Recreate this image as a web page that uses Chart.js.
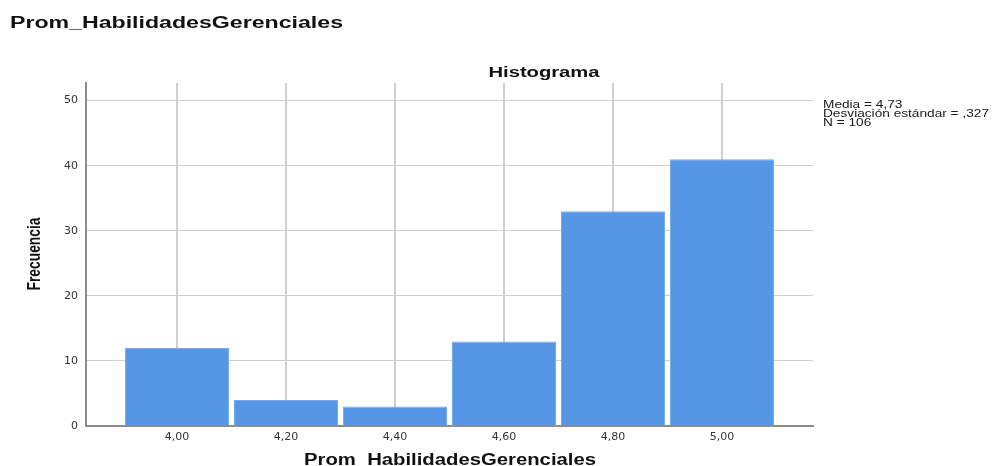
<!DOCTYPE html>
<html>
<head>
<meta charset="utf-8">
<script src="https://cdn.jsdelivr.net/npm/chart.js@4/dist/chart.umd.min.js"></script>
<style>
  html,body{margin:0;padding:0;background:#fff;}
  canvas{display:block;}
</style>
</head>
<body>
<canvas id="histo" width="992" height="466"></canvas>
<script>
// -------- DATA ----------
const binCenters  = [4.0, 4.2, 4.4, 4.6, 4.8, 5.0];
const tickLabels  = ['4,00', '4,20', '4,40', '4,60', '4,80', '5,00'];
const frequencies = [12, 4, 3, 13, 33, 41];
const yTicks      = [0, 10, 20, 30, 40, 50];
const statsLines  = ['Media = 4,73', 'Desviación estándar = ,327', 'N = 106'];

const varName   = 'Prom_HabilidadesGerenciales';
const chartName = 'Histograma';
const yName     = 'Frecuencia';

const FONT      = '"Liberation Sans", Arial, sans-serif';
const TICK_FONT = '"DejaVu Sans", "Liberation Sans", sans-serif';

// draw text squeezed/stretched to a given width (SPSS style output)
function fitText(ctx, text, x, y, w, align){
  const m = ctx.measureText(text).width || 1;
  ctx.save();
  ctx.translate(x, y);
  ctx.scale(w / m, 1);
  ctx.textAlign = align;
  ctx.fillText(text, 0, 0);
  ctx.restore();
}

// plugin: titles and stats box
const labelsPlugin = {
  id: 'labelsPlugin',
  afterDraw(chart){
    const ctx = chart.ctx;
    ctx.save();
    ctx.fillStyle = '#111';
    ctx.textBaseline = 'alphabetic';

    ctx.font = 'bold 16px ' + FONT;
    fitText(ctx, varName, 10, 28, 333, 'left');

    ctx.font = 'bold 14px ' + FONT;
    fitText(ctx, chartName, 544, 77, 111, 'center');

    ctx.font = 'bold 16px ' + FONT;
    fitText(ctx, varName, 450, 465, 292, 'center');

    // y title, rotated
    ctx.save();
    ctx.translate(35, 254);
    ctx.rotate(-Math.PI/2);
    ctx.textBaseline = 'middle';
    ctx.font = 'bold 19px ' + FONT;
    fitText(ctx, yName, 0, 0, 73, 'center');
    ctx.restore();

    // stats, all lines share the same horizontal stretch
    ctx.fillStyle = '#1a1a1a';
    ctx.font = '11px ' + FONT;
    ctx.textBaseline = 'middle';
    ctx.textAlign = 'left';
    const longest = Math.max(...statsLines.map(t=>ctx.measureText(t).width));
    const sx = 166 / longest;
    statsLines.forEach((t, i)=>{
      ctx.save();
      ctx.translate(823, 105 + i*9);
      ctx.scale(sx, 1);
      ctx.fillText(t, 0, 0);
      ctx.restore();
    });
    ctx.restore();
  }
};

// -------- CHART ----------
const el = document.getElementById('histo');

new Chart(el.getContext('2d'), {
  type: 'bar',
  data: {
    datasets: [{
      data: binCenters.map((x, i)=>({x: x, y: frequencies[i]})),
      backgroundColor: '#5596e6',
      borderColor: '#78abec',
      borderWidth: 1,
      barPercentage: 1,
      categoryPercentage: 0.954
    }]
  },
  options: {
    responsive: false,
    animation: false,
    layout: {padding: {left: 0, top: 83, right: 179, bottom: 0}},
    plugins: {legend: {display: false}, tooltip: {enabled: false}, title: {display: false}},
    scales: {
      x: {
        type: 'linear',
        min: 3.833,
        max: 5.167,
        offset: false,
        afterFit(s){ s.height = 40; },
        afterBuildTicks(s){ s.ticks = binCenters.map(v=>({value: v})); },
        ticks: {
          padding: 5,
          autoSkip: false,
          maxRotation: 0,
          color: '#333',
          font: {family: TICK_FONT, size: 11},
          callback: (v, i)=> tickLabels[i]
        },
        grid: {color: '#cfcfcf', lineWidth: 2, drawTicks: false, offset: false},
        border: {color: '#8c8c8c', width: 2}
      },
      y: {
        min: 0,
        max: 52.7,
        afterFit(s){ s.width = 86; },
        afterBuildTicks(s){ s.ticks = yTicks.map(v=>({value: v})); },
        ticks: {
          padding: 8,
          color: '#333',
          font: {family: TICK_FONT, size: 11},
          callback: v => String(v)
        },
        grid: {color: '#d0d0d0', lineWidth: 1, drawTicks: false},
        border: {color: '#8c8c8c', width: 2}
      }
    }
  },
  plugins: [labelsPlugin]
});
</script>
</body>
</html>
